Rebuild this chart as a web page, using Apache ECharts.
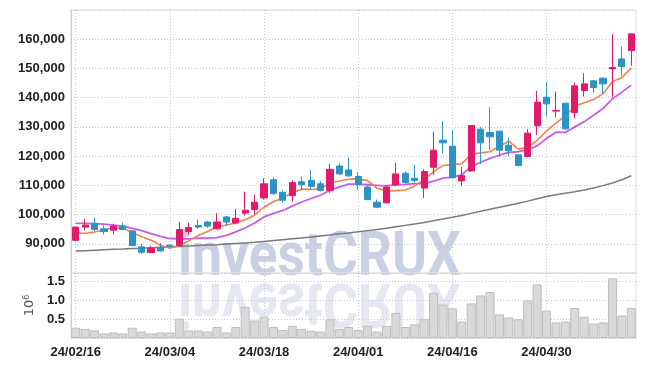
<!DOCTYPE html>
<html><head><meta charset="utf-8">
<script src="https://cdn.jsdelivr.net/npm/echarts@6/dist/echarts.min.js"></script>
<style>html,body{margin:0;padding:0;background:#fff}#c{width:645px;height:366px}</style>
</head><body><div id="c"></div>
<script>
const dates = ['24/02/16','24/02/19','24/02/20','24/02/21','24/02/22','24/02/23','24/02/26','24/02/27','24/02/28','24/02/29',
'24/03/04','24/03/05','24/03/06','24/03/07','24/03/08','24/03/11','24/03/12','24/03/13','24/03/14','24/03/15',
'24/03/18','24/03/19','24/03/20','24/03/21','24/03/22','24/03/25','24/03/26','24/03/27','24/03/28','24/03/29',
'24/04/01','24/04/02','24/04/03','24/04/04','24/04/05','24/04/08','24/04/09','24/04/11','24/04/12','24/04/15',
'24/04/16','24/04/17','24/04/18','24/04/19','24/04/22','24/04/23','24/04/24','24/04/25','24/04/26','24/04/29',
'24/04/30','24/05/02','24/05/03','24/05/07','24/05/08','24/05/09','24/05/10','24/05/13','24/05/14','24/05/16'];

// [open, close, low, high]
const ohlc = [
[91200,95700,91000,95800],[95700,96400,94650,98600],[97000,94900,94300,98950],[95100,94200,93150,96300],[94650,96050,93250,96860],
[96050,94900,94650,97200],[94400,89400,89300,94650],[88950,87100,86500,90000],[86970,88490,86860,89300],[88720,87560,87330,90230],
[89500,89100,88800,89900],[89420,94880,89300,97560],[94180,95580,93140,97200],[96280,95700,95120,98370],[97440,96050,95470,97790],
[95120,97440,94880,100470],[99190,97440,96050,99530],[97100,98700,96650,101900],[100500,101500,99700,107800],[101740,104220,100050,106810],
[105690,110530,105120,112450],[111890,107150,106810,112790],[107600,104900,104000,108280],[106480,110980,104560,111660],[111210,110200,108280,113010],
[111660,109630,108500,115270],[110530,108280,107940,111320],[108280,115490,107380,117300],[116620,113910,113580,117520],[115270,113240,113010,119440],
[113010,110200,108500,114480],[109400,105120,104900,109860],[104220,102530,102190,105120],[104000,109400,103770,109860],[110200,113910,109630,117750],
[114140,110980,110530,114700],[112450,111660,110980,116960],[109070,114700,105690,115490],[116170,122030,113580,128230],[125450,124540,120890,131970],
[123400,112640,112300,128890],[111500,113330,109780,116300],[114930,130480,114590,130600],[129230,124540,117300,130030],[128090,126600,122030,136700],
[128550,122030,119750,128660],[123740,121800,119980,126140],[120430,116790,116450,120780],[119870,127850,119870,129230],[130360,138450,127280,142330],
[140160,137880,133550,145180],[135400,135600,133200,142100],[138110,129330,128990,138220],[134920,144040,132980,145180],[142440,144720,140390,148370],
[145750,143470,141760,146090],[146660,144720,141300,147000],[149850,150310,140160,161710],[153270,150650,147460,157490],[156120,161820,150880,162050]];

const ma5 = [93700,93600,94000,94700,95400,95300,93900,92400,91200,89500,88500,89400,91000,92800,94200,95800,96400,97100,98200,99800,
102500,104400,105700,107500,108700,108600,108800,110900,111500,112100,112200,111600,109000,108100,108200,108400,109700,112100,114600,116800,
117100,117400,120600,121100,121500,123400,125100,122400,123000,125400,128600,131300,133800,137100,138300,139400,141300,145500,146800,150200];

const ma10 = [97000,97000,96900,96700,96400,96000,95300,94500,93500,92500,91800,91700,91700,91900,91900,92100,92900,94100,95400,97100,
99200,100400,101400,102900,104300,105500,106600,108300,109500,110400,110400,110200,110000,109800,110200,110300,110600,110600,111400,112500,
112800,113600,116400,117900,119200,120300,121300,121500,122100,123500,126000,128200,128100,130000,131800,134000,136300,139600,141900,144300];

const maLong = [87500,87650,87800,87950,88100,88200,88350,88500,88650,88800,88950,89100,89250,89400,89550,89700,89900,90100,90300,90500,
90800,91100,91400,91700,92000,92300,92700,93000,93400,93700,94100,94500,94900,95300,95800,96300,96800,97300,97900,98500,
99100,99700,100400,101100,101800,102500,103200,103900,104600,105400,106200,106800,107300,107800,108400,109100,109900,110800,111900,113300];

const volume = [270000,240000,200000,120000,145000,120000,270000,170000,120000,145000,145000,510000,200000,200000,170000,290000,145000,290000,820000,460000,
560000,290000,210000,320000,240000,190000,170000,490000,240000,290000,210000,320000,170000,320000,660000,290000,360000,490000,1190000,880000,
780000,430000,910000,1120000,1210000,620000,540000,490000,990000,1410000,720000,410000,430000,790000,560000,380000,410000,1570000,590000,790000];

const priceMin = 80000, priceMax = 170000, priceStep = 10000;
const volMin = 0, volMax = 1710000, volStep = 500000;
const watermark = 'investCRUX';

const labelFont = {fontFamily:'"Liberation Sans",Arial,sans-serif', fontWeight:'bold', fontSize:13, color:'#222'};
const gridLine = {show:true, lineStyle:{type:[1,2], color:'#c4c7d2', width:1}};

const chart = echarts.init(document.getElementById('c'), null, {renderer:'canvas'});
chart.setOption({
  animation:false,
  backgroundColor:'#fff',
  grid:[
    {left:71, right:9, top:10, height:263, show:true, borderColor:'#dcdcdc', borderWidth:1},
    {left:71, right:9, top:273, height:65, show:true, borderColor:'#e2e2e2', borderWidth:1}
  ],
  graphic:[
    {type:'text', x:178, y:228, z:-10, scaleX:0.86, style:{text:watermark, font:'bold 62px Roboto', fill:'#c9d0e3', verticalAlign:'top'}},
    {type:'text', x:178, y:330, z:-10, scaleX:0.86, scaleY:-1, style:{text:watermark, font:'bold 62px Roboto', fill:'#e5e8f0', verticalAlign:'top'}}
  ],
  xAxis:[
    {type:'category', gridIndex:0, data:dates, boundaryGap:true, axisLine:{show:false}, axisTick:{show:false}, axisLabel:{show:false},
     splitLine:Object.assign({interval:9, alignWithLabel:true}, gridLine)},
    {type:'category', gridIndex:1, data:dates, boundaryGap:true, axisLine:{show:false}, axisTick:{show:false, alignWithLabel:true},
     axisLabel:Object.assign({interval:9, margin:8}, labelFont), splitLine:Object.assign({interval:9, alignWithLabel:true}, gridLine)}
  ],
  yAxis:[
    {type:'value', gridIndex:0, min:priceMin, max:priceMax, interval:priceStep, axisLine:{show:true, lineStyle:{color:'#cccccc'}}, axisTick:{show:false},
     axisLabel:Object.assign({showMinLabel:false, showMaxLabel:false, margin:6, formatter:v=>v.toLocaleString('en-US')}, labelFont), splitLine:gridLine},
    {type:'value', gridIndex:1, min:volMin, max:volMax, interval:volStep, axisLine:{show:true, lineStyle:{color:'#cccccc'}}, axisTick:{show:false},
     axisLabel:Object.assign({showMinLabel:false, showMaxLabel:false, margin:6, formatter:v=>(v/1e6).toFixed(1)}, labelFont), splitLine:gridLine,
     name:'10{s|6}', nameLocation:'middle', nameRotate:90, nameGap:30,
     nameTextStyle:{color:'#555', fontSize:13, fontFamily:'DejaVu Sans', rich:{s:{fontSize:8, verticalAlign:'top', color:'#555'}}}}
  ],
  series:[
    {type:'bar', xAxisIndex:1, yAxisIndex:1, data:volume, barCategoryGap:'4%',
     itemStyle:{color:'#d9d9d9', borderColor:'#bdbdbd', borderWidth:1}},
    {type:'line', data:maLong, showSymbol:false, lineStyle:{color:'#7a7a7a', width:1.5}, z:3},
    {type:'line', data:ma10, showSymbol:false, lineStyle:{color:'#c75ce8', width:1.8}, z:3},
    {type:'line', data:ma5, showSymbol:false, lineStyle:{color:'#ef8149', width:1.6}, z:3},
    {type:'candlestick', data:ohlc, barWidth:'70%', z:4,
     itemStyle:{color:'#e3196a', color0:'#2b93c6', borderColor:'#e3196a', borderColor0:'#2b93c6', borderWidth:1}}
  ]
});
</script></body></html>
